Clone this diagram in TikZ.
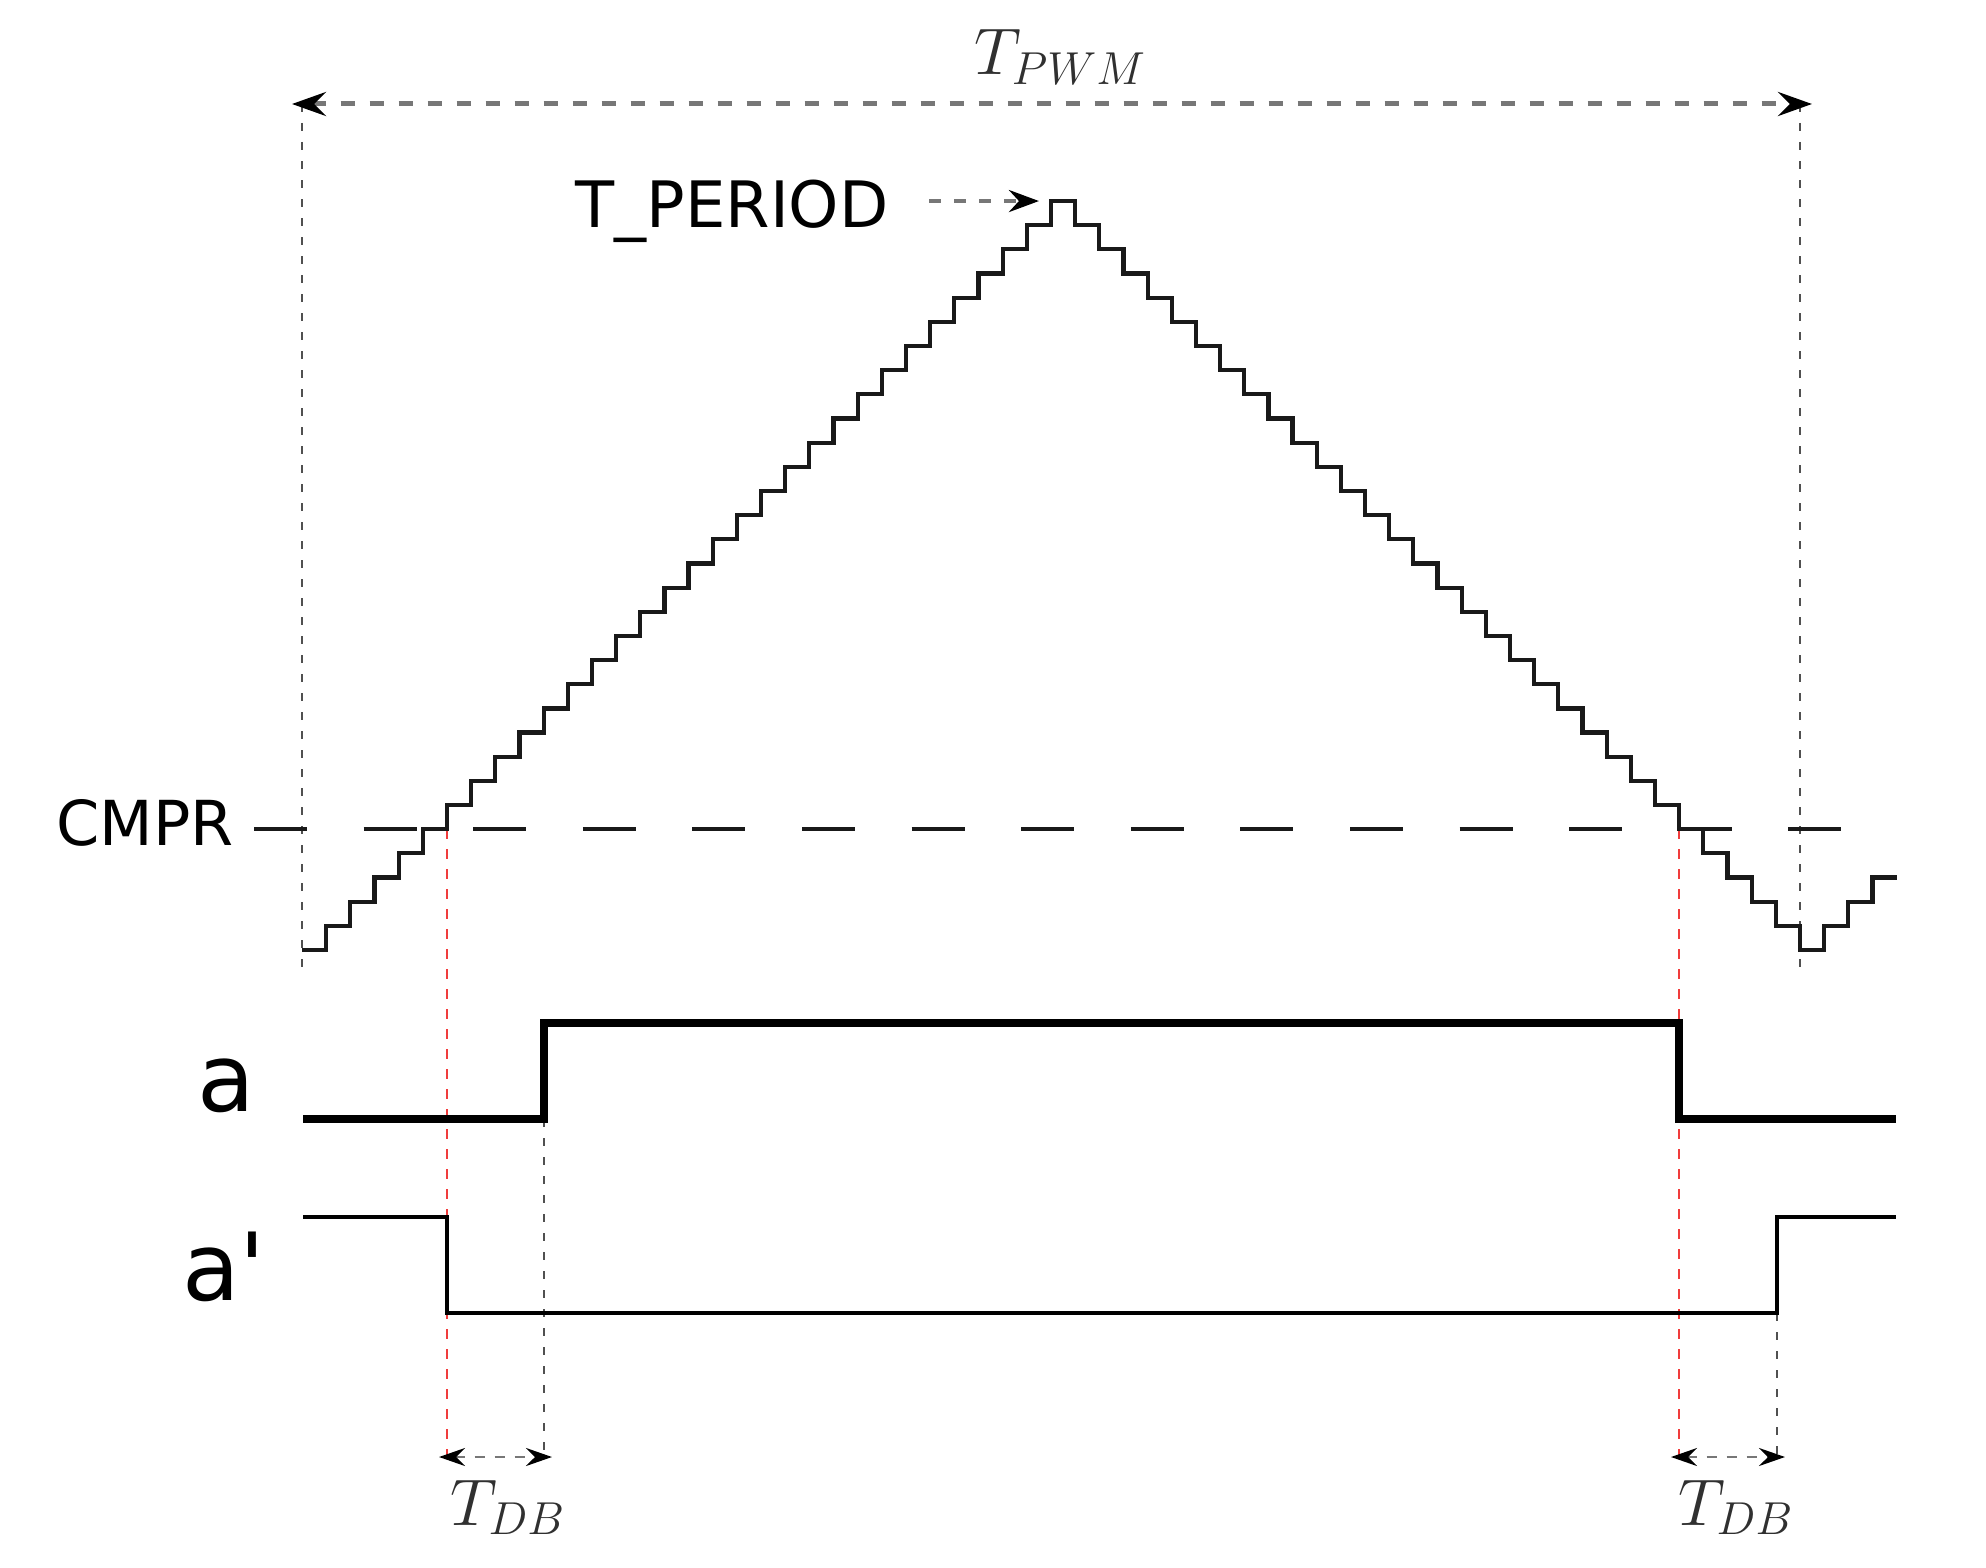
\RequirePackage{fix-cm}
\documentclass[tikz,border=0pt]{standalone}
\usepackage{fontspec}
\newfontfamily\dvs{DejaVu Sans}
\usetikzlibrary{arrows.meta}
\definecolor{dgray}{HTML}{505050}
\definecolor{mgray}{HTML}{777777}
\definecolor{lred}{HTML}{F03C3C}
\definecolor{tgray}{HTML}{303030}
\tikzset{
  stair/.style={line width=2.1pt, black!90, line join=miter},
  sigA/.style={line width=3.8pt, black, line join=miter},
  sigB/.style={line width=2.2pt, black, line join=miter},
  cmprline/.style={line width=1.7pt, black!90, dash pattern=on 26.5pt off 28.3pt},
  guide/.style={line width=1.3pt, dgray, dash pattern=on 4pt off 5.5pt},
  redguide/.style={line width=1.3pt, lred, dash pattern=on 5pt off 5pt},
  span/.style={line width=2.5pt, mgray, dash pattern=on 7pt off 7.5pt,
    {Stealth[length=17pt,width=12pt,inset=6pt,color=black]}-{Stealth[length=17pt,width=12pt,inset=6pt,color=black]}},
  periodarrow/.style={line width=2.2pt, mgray, dash pattern=on 6pt off 6.5pt,
    -{Stealth[length=15pt,width=11pt,inset=5pt,color=black]}},
  dbarrow/.style={line width=1.4pt, mgray, dash pattern=on 5pt off 5pt,
    {Stealth[length=13pt,width=9pt,inset=4.5pt,color=black]}-{Stealth[length=13pt,width=9pt,inset=4.5pt,color=black]}},
  sanslbl/.style={font=\dvs\fontsize{31}{37}\selectfont, inner sep=0pt, anchor=base},
  siglbl/.style={font=\dvs\fontsize{47}{56}\selectfont, inner sep=0pt, anchor=base},
  mathlbl/.style={font=\fontsize{33}{40}\selectfont, text=tgray, inner sep=0pt, anchor=base},
}
\begin{document}
\begin{tikzpicture}[x=0.5pt,y=-0.5pt]
\useasboundingbox (0,0) rectangle (1986,1568);
\def\w{24.16}
% named coordinates
\coordinate (pwmL) at (302,104);
\coordinate (pwmR) at (1800,104);
\coordinate (vLb) at (302,975);
\coordinate (vRb) at (1800,975);
\coordinate (peakL) at (1050.96,201.04);
\coordinate (tpa) at (929,201.04);
\coordinate (cmS) at (254,829);
\coordinate (cmE) at (1843,829);
\coordinate (cmL) at (447,829);
\coordinate (cmR) at (1679,829);
\coordinate (aup) at (544,1119);
\coordinate (apup) at (1777,1313);
\coordinate (dbL1) at (447,1457);
\coordinate (dbL2) at (544,1457);
\coordinate (dbR1) at (1679,1457);
\coordinate (dbR2) at (1777,1457);

% guides
\draw[guide] (pwmL) -- (vLb);
\draw[guide] (pwmR) -- (vRb);
\draw[redguide] (cmL) -- (dbL1);
\draw[redguide] (cmR) -- (dbR1);
\draw[guide] (aup) -- (dbL2);
\draw[guide] (apup) -- (dbR2);

% CMPR line
\draw[cmprline] (cmS) -- (cmE);

% staircase counter
\draw[stair] (302,950)
  \foreach \k in {1,...,31}{ -- ++(\w,0) -- ++(0,-\w) }
  -- ++(\w,0)
  \foreach \k in {1,...,31}{ -- ++(0,\w) -- ++(\w,0) }
  \foreach \k in {1,2,3}{ -- ++(0,-\w) -- ++(\w,0) };

% signals
\draw[sigA] (303,1119) -- (aup) -- (544,1023) -- (1679,1023) -- (1679,1119) -- (1896,1119);
\draw[sigB] (303,1217) -- (447,1217) -- (447,1313) -- (apup) -- (1777,1217) -- (1896,1217);

% arrows
\draw[span, shorten <=-5pt, shorten >=-6pt] (pwmL) -- (pwmR);
\draw[periodarrow, shorten >=6pt] (tpa) -- (peakL);
\draw[dbarrow, shorten <=-4pt, shorten >=-4pt] (dbL1) -- (dbL2);
\draw[dbarrow, shorten <=-4pt, shorten >=-4pt] (dbR1) -- (dbR2);

% labels
\node[mathlbl] (tpwm) at (1060,75) {$T_{PWM}$};
\node[sanslbl, font=\dvs\fontsize{32}{38}\selectfont] (tperiod) at (732,227) {T\_PERIOD};
\node[sanslbl] (cmpr) at (145,845) {CMPR};
\node[siglbl] (la) at (226,1111) {a};
\node[siglbl] (lap) at (224,1300) {a\char"27};
\node[mathlbl] (tdbl) at (508,1525) {$T_{DB}$};
\node[mathlbl] (tdbr) at (1736,1525) {$T_{DB}$};
\end{tikzpicture}
\end{document}
